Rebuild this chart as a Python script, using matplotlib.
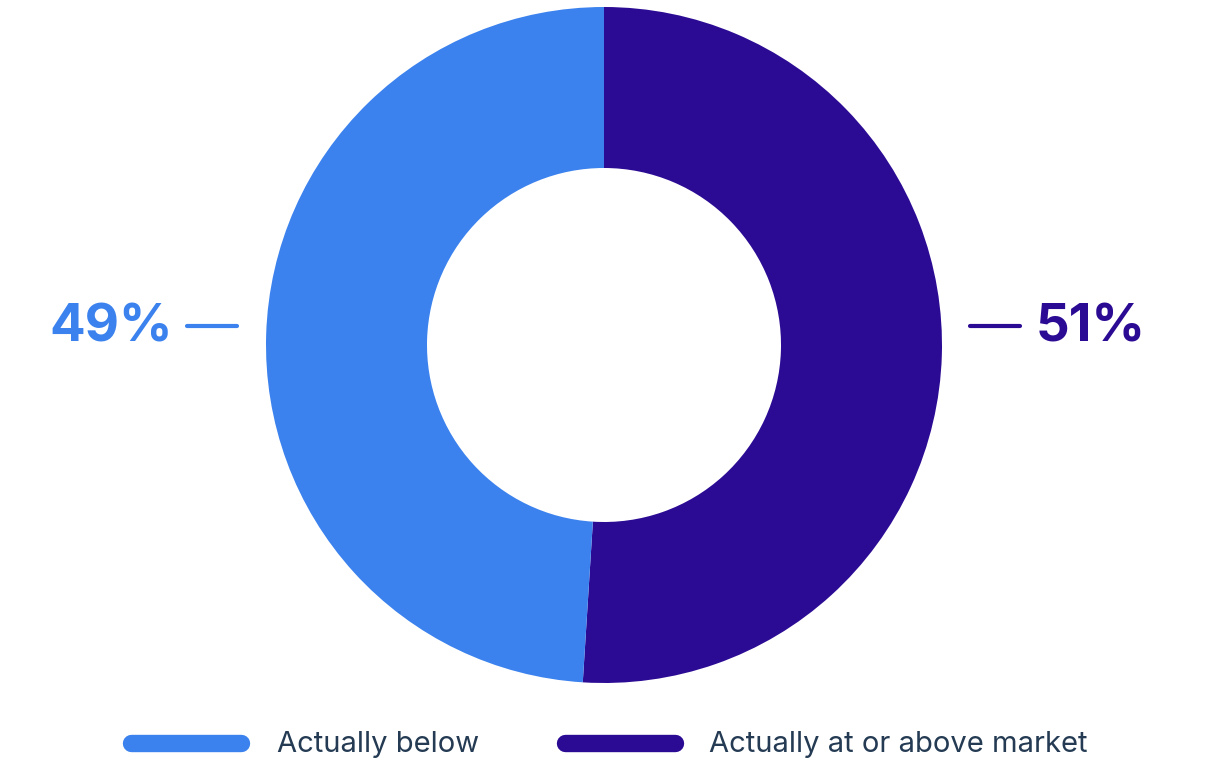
import matplotlib.pyplot as plt

plt.rcParams["font.family"] = ["Inter", "DejaVu Sans"]

categories = ["Actually at or above market", "Actually below"]
shares = [51, 49]
colors = ["#2c0b94", "#3b82ee"]
text_color = "#243b53"

W, H = 1215, 784
fig = plt.figure(figsize=(W / 100, H / 100), dpi=100)
ax = fig.add_axes([0, 0, 1, 1])

# donut, purple from the top going clockwise
cx, cy = 604, H - 345
r_out, r_in = 338, 177
ax.pie(
    shares,
    colors=colors,
    startangle=90,
    counterclock=False,
    radius=r_out,
    center=(cx, cy),
    wedgeprops={"width": r_out - r_in, "linewidth": 0},
    frame=True,
)
ax.set_xlim(0, W)
ax.set_ylim(0, H)
ax.set_aspect("equal")
ax.axis("off")

# percentage callouts
label_y = H - 326
ax.plot([187, 237], [label_y, label_y], color=colors[1], lw=3, solid_capstyle="round")
ax.text(173, label_y - 2, f"{shares[1]}%", color=colors[1], fontsize=38,
        fontweight="bold", ha="right", va="center")
ax.plot([970, 1020], [label_y, label_y], color=colors[0], lw=3, solid_capstyle="round")
ax.text(1036, label_y - 2, f"{shares[0]}%", color=colors[0], fontsize=38,
        fontweight="bold", ha="left", va="center")

# legend
leg_y = H - 743
for (x0, x1, tx), name, col in [
    ((131, 241, 277), categories[1], colors[1]),
    ((565, 675, 709), categories[0], colors[0]),
]:
    ax.plot([x0, x1], [leg_y, leg_y], color=col, lw=12.5, solid_capstyle="round")
    ax.text(tx, leg_y - 2, name, color=text_color, fontsize=21, ha="left", va="center")

fig.savefig("out.png", dpi=100)
